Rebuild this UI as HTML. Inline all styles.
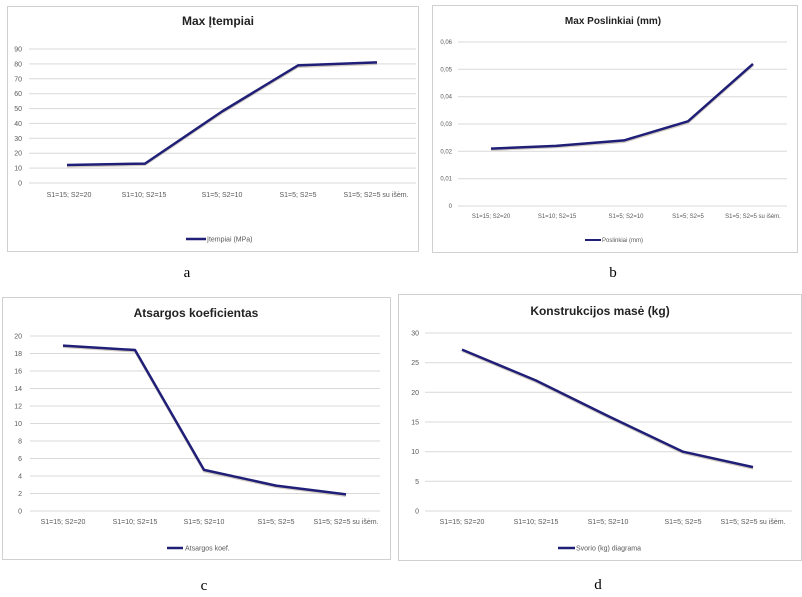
<!DOCTYPE html>
<html><head><meta charset="utf-8"><style>
html,body{margin:0;padding:0;background:#fff;}
svg{display:block;font-family:"Liberation Sans",sans-serif;}
.g{stroke:#d9d9d9;stroke-width:1;}
.t{font-size:7px;fill:#595959;}
.ti{font-size:12px;font-weight:bold;fill:#222;}
.ln{fill:none;stroke:#1f1f78;stroke-width:2.5;stroke-linejoin:round;}
.sh{fill:none;stroke:#b8a898;stroke-width:2;opacity:.6;}
.lab{font-family:"Liberation Serif",serif;font-size:15px;fill:#000;}
.box{fill:#fff;stroke:#d0d0d0;stroke-width:1;}
</style></head><body>
<svg width="802" height="597" viewBox="0 0 802 597">
<!-- Panel a -->
<rect class="box" x="7.5" y="6.5" width="411" height="245"/>
<text class="ti" x="218" y="25" text-anchor="middle">Max Įtempiai</text>
<g class="g">
<line x1="29" x2="416" y1="49" y2="49"/><line x1="29" x2="416" y1="63.9" y2="63.9"/><line x1="29" x2="416" y1="78.8" y2="78.8"/><line x1="29" x2="416" y1="93.7" y2="93.7"/><line x1="29" x2="416" y1="108.6" y2="108.6"/><line x1="29" x2="416" y1="123.4" y2="123.4"/><line x1="29" x2="416" y1="138.3" y2="138.3"/><line x1="29" x2="416" y1="153.2" y2="153.2"/><line x1="29" x2="416" y1="168.1" y2="168.1"/><line x1="29" x2="416" y1="183" y2="183"/>
</g>
<g class="t" text-anchor="end">
<text x="22" y="51.5">90</text><text x="22" y="66.4">80</text><text x="22" y="81.3">70</text><text x="22" y="96.2">60</text><text x="22" y="111.1">50</text><text x="22" y="125.9">40</text><text x="22" y="140.8">30</text><text x="22" y="155.7">20</text><text x="22" y="170.6">10</text><text x="22" y="185.5">0</text>
</g>
<g class="t" text-anchor="middle">
<text x="69" y="197">S1=15; S2=20</text><text x="144" y="197">S1=10; S2=15</text><text x="222" y="197">S1=5; S2=10</text><text x="298" y="197">S1=5; S2=5</text><text x="376" y="197">S1=5; S2=5 su išėm.</text>
</g>
<polyline class="sh" points="67,166.5 145,165 222,113 298,67 377,64"/>
<polyline class="ln" points="67,165 145,163.6 222,111.5 298,65.4 377,62.4"/>
<line x1="186" x2="206" y1="239" y2="239" stroke="#1f1f78" stroke-width="2.5"/>
<text class="t" x="207" y="241.5">Įtempiai (MPa)</text>
<text class="lab" x="187" y="277" text-anchor="middle">a</text>

<!-- Panel b -->
<rect class="box" x="432.5" y="5.5" width="365" height="247"/>
<text class="ti" x="613" y="24" text-anchor="middle" style="font-size:10px">Max Poslinkiai (mm)</text>
<g class="g">
<line x1="458" x2="787" y1="42" y2="42"/><line x1="458" x2="787" y1="69.3" y2="69.3"/><line x1="458" x2="787" y1="96.7" y2="96.7"/><line x1="458" x2="787" y1="124" y2="124"/><line x1="458" x2="787" y1="151.3" y2="151.3"/><line x1="458" x2="787" y1="178.7" y2="178.7"/><line x1="458" x2="787" y1="206" y2="206"/>
</g>
<g class="t" text-anchor="end" style="font-size:6px">
<text x="452" y="44">0,06</text><text x="452" y="71.3">0,05</text><text x="452" y="98.7">0,04</text><text x="452" y="126">0,03</text><text x="452" y="153.3">0,02</text><text x="452" y="180.7">0,01</text><text x="452" y="208">0</text>
</g>
<g class="t" text-anchor="middle" style="font-size:6px">
<text x="491" y="218">S1=15; S2=20</text><text x="557" y="218">S1=10; S2=15</text><text x="626" y="218">S1=5; S2=10</text><text x="688" y="218">S1=5; S2=5</text><text x="753" y="218">S1=5; S2=5 su išėm.</text>
</g>
<polyline class="sh" points="491,150 556,147.3 624,142 688,123 753,65.5"/>
<polyline class="ln" points="491,148.6 556,145.9 624,140.4 688,121.3 753,63.9"/>
<line x1="585" x2="601" y1="240" y2="240" stroke="#1f1f78" stroke-width="2"/>
<text class="t" x="602" y="242" style="font-size:6px">Poslinkiai (mm)</text>
<text class="lab" x="613" y="277" text-anchor="middle">b</text>

<!-- Panel c -->
<rect class="box" x="2.5" y="297.5" width="388" height="262"/>
<text class="ti" x="196" y="317" text-anchor="middle">Atsargos koeficientas</text>
<g class="g">
<line x1="30" x2="380" y1="336" y2="336"/><line x1="30" x2="380" y1="353.5" y2="353.5"/><line x1="30" x2="380" y1="371" y2="371"/><line x1="30" x2="380" y1="388.5" y2="388.5"/><line x1="30" x2="380" y1="406" y2="406"/><line x1="30" x2="380" y1="423.5" y2="423.5"/><line x1="30" x2="380" y1="441" y2="441"/><line x1="30" x2="380" y1="458.5" y2="458.5"/><line x1="30" x2="380" y1="476" y2="476"/><line x1="30" x2="380" y1="493.5" y2="493.5"/><line x1="30" x2="380" y1="511" y2="511"/>
</g>
<g class="t" text-anchor="end">
<text x="22" y="338.5">20</text><text x="22" y="356">18</text><text x="22" y="373.5">16</text><text x="22" y="391">14</text><text x="22" y="408.5">12</text><text x="22" y="426">10</text><text x="22" y="443.5">8</text><text x="22" y="461">6</text><text x="22" y="478.5">4</text><text x="22" y="496">2</text><text x="22" y="513.5">0</text>
</g>
<g class="t" text-anchor="middle">
<text x="63" y="524">S1=15; S2=20</text><text x="135" y="524">S1=10; S2=15</text><text x="204" y="524">S1=5; S2=10</text><text x="276" y="524">S1=5; S2=5</text><text x="346" y="524">S1=5; S2=5 su išėm.</text>
</g>
<polyline class="sh" points="63,347 135,351.5 204,471.5 276,487 346,496"/>
<polyline class="ln" points="63,345.6 135,350 204,469.9 276,485.6 346,494.4"/>
<line x1="167" x2="183" y1="548" y2="548" stroke="#1f1f78" stroke-width="2.5"/>
<text class="t" x="185" y="550.5">Atsargos koef.</text>
<text class="lab" x="204" y="590" text-anchor="middle">c</text>

<!-- Panel d -->
<rect class="box" x="398.5" y="294.5" width="403" height="266"/>
<text class="ti" x="600" y="315" text-anchor="middle">Konstrukcijos masė (kg)</text>
<g class="g">
<line x1="425" x2="792" y1="333" y2="333"/><line x1="425" x2="792" y1="362.7" y2="362.7"/><line x1="425" x2="792" y1="392.3" y2="392.3"/><line x1="425" x2="792" y1="422" y2="422"/><line x1="425" x2="792" y1="451.7" y2="451.7"/><line x1="425" x2="792" y1="481.3" y2="481.3"/><line x1="425" x2="792" y1="511" y2="511"/>
</g>
<g class="t" text-anchor="end">
<text x="419" y="335.5">30</text><text x="419" y="365.2">25</text><text x="419" y="394.8">20</text><text x="419" y="424.5">15</text><text x="419" y="454.2">10</text><text x="419" y="483.8">5</text><text x="419" y="513.5">0</text>
</g>
<g class="t" text-anchor="middle">
<text x="462" y="524">S1=15; S2=20</text><text x="536" y="524">S1=10; S2=15</text><text x="608" y="524">S1=5; S2=10</text><text x="683" y="524">S1=5; S2=5</text><text x="753" y="524">S1=5; S2=5 su išėm.</text>
</g>
<polyline class="sh" points="462,351 536,382 608,417.5 683,453.2 753,468.6"/>
<polyline class="ln" points="462,349.6 536,380.5 608,416 683,451.7 753,467.1"/>
<line x1="558" x2="575" y1="548" y2="548" stroke="#1f1f78" stroke-width="2.5"/>
<text class="t" x="576" y="550.5">Svorio (kg) diagrama</text>
<text class="lab" x="598" y="589" text-anchor="middle">d</text>
</svg>
</body></html>
